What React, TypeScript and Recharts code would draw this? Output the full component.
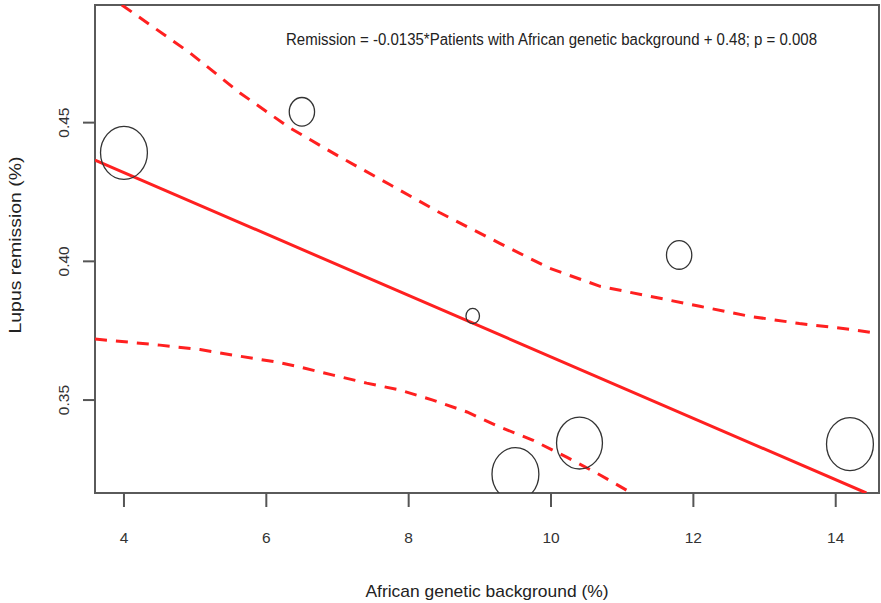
import { ComposedChart, Scatter, XAxis, YAxis, ReferenceArea } from 'recharts'

// axis setup
const X_TICKS = [4, 6, 8, 10, 12, 14]
const Y_TICKS = [0.35, 0.4, 0.45]
const X_DOMAIN: [number, number] = [3.593, 14.608]
const Y_DOMAIN: [number, number] = [0.3165, 0.4924]

// studies: African background (%), remission rate, relative study size
const afroPct = [4.0, 6.5, 8.9, 9.5, 10.4, 11.8, 14.2]
const remission = [0.4391, 0.4539, 0.3803, 0.3233, 0.3345, 0.4023, 0.3341]
const studySize = [120, 35, 10, 120, 115, 35, 120]

// fitted line (as drawn, clipped to the box)
const fitX = [3.593, 14.43]
const fitY = [0.4365, 0.3165]

// confidence band, upper
const upperX = [3.97, 4.93, 5.63, 6.33, 7.03, 7.74, 8.44, 9.28, 9.98, 10.69, 11.39, 12.09, 12.79, 13.49, 14.2, 14.6]
const upperY = [0.4924, 0.4751, 0.4607, 0.4481, 0.4377, 0.4276, 0.4175, 0.4065, 0.3975, 0.391, 0.3874, 0.3838, 0.3802, 0.3776, 0.3755, 0.374]

// confidence band, lower
const lowerX = [3.593, 4.506, 5.07, 5.63, 6.19, 6.47, 6.94, 7.41, 7.88, 8.34, 8.82, 9.28, 9.74, 10.22, 10.69, 11.13]
const lowerY = [0.372, 0.3698, 0.3682, 0.3658, 0.3635, 0.3619, 0.359, 0.3561, 0.3536, 0.35, 0.3457, 0.3403, 0.3356, 0.3294, 0.323, 0.3165]

const zip = (xs: number[], ys: number[]) => xs.map((x, i) => ({ x, y: ys[i] }))
const studies = afroPct.map((x, i) => ({ x, y: remission[i], n: studySize[i] }))

const RED = '#ff2020'
const FONT = '"Liberation Sans", Arial, sans-serif'

const Bubble = (p: any) => {
  const r = 2.14 * Math.sqrt(p.payload.n)
  return <ellipse cx={p.cx} cy={p.cy} rx={r} ry={r * 1.13} fill="none" stroke="#333" strokeWidth={1.3} />
}
const NoDot = () => <g />

const XTick = (p: any) => (
  <text x={p.x} y={p.y} dy={36} textAnchor="middle" fontSize={15.5} fill="#333" fontFamily={FONT}>
    {p.payload.value}
  </text>
)
const YTick = (p: any) => (
  <text x={p.x} y={p.y} transform={`rotate(-90 ${p.x} ${p.y})`} textAnchor="middle"
        fontSize={15.5} fill="#333" fontFamily={FONT}>
    {p.payload.value.toFixed(2)}
  </text>
)

export default function App() {
  return (
    <div style={{ position: 'absolute', left: 0, top: 0, background: 'white' }}>
      <ComposedChart width={881} height={603} margin={{ top: 5, right: 2, left: 0, bottom: 0 }}>
        <XAxis type="number" dataKey="x" domain={X_DOMAIN} ticks={X_TICKS} allowDataOverflow
               height={110} tickSize={14} tickMargin={0} tick={<XTick />}
               axisLine={false} tickLine={{ stroke: '#555', strokeWidth: 2 }} />
        <YAxis type="number" dataKey="y" domain={Y_DOMAIN} ticks={Y_TICKS} allowDataOverflow
               width={95} tickSize={12} tickMargin={14} tick={<YTick />}
               axisLine={false} tickLine={{ stroke: '#555', strokeWidth: 2 }} />
        <ReferenceArea x1={X_DOMAIN[0]} x2={X_DOMAIN[1]} y1={Y_DOMAIN[0]} y2={Y_DOMAIN[1]}
                       fill="none" fillOpacity={0} stroke="#5a5a5a" strokeWidth={2} />

        <Scatter data={zip(upperX, upperY)} shape={<NoDot />} isAnimationActive={false}
                 line={{ stroke: RED, strokeWidth: 3, strokeDasharray: '12 9' }} />
        <Scatter data={zip(lowerX, lowerY)} shape={<NoDot />} isAnimationActive={false}
                 line={{ stroke: RED, strokeWidth: 3, strokeDasharray: '12 9' }} />
        <Scatter data={zip(fitX, fitY)} shape={<NoDot />} isAnimationActive={false}
                 line={{ stroke: RED, strokeWidth: 3 }} />
        <Scatter data={studies} shape={<Bubble />} isAnimationActive={false} />

        <text x={286} y={45} fontSize={16} fill="#222" fontFamily={FONT}
              textLength={531} lengthAdjust="spacingAndGlyphs">
          Remission = -0.0135*Patients with African genetic background + 0.48; p = 0.008
        </text>
        <text x={487} y={597} fontSize={17} fill="#222" fontFamily={FONT} textAnchor="middle"
              textLength={243} lengthAdjust="spacingAndGlyphs">
          African genetic background (%)
        </text>
        <text x={21} y={245} fontSize={17} fill="#222" fontFamily={FONT} textAnchor="middle"
              transform="rotate(-90 21 245)" textLength={177} lengthAdjust="spacingAndGlyphs">
          Lupus remission (%)
        </text>
      </ComposedChart>
    </div>
  )
}
